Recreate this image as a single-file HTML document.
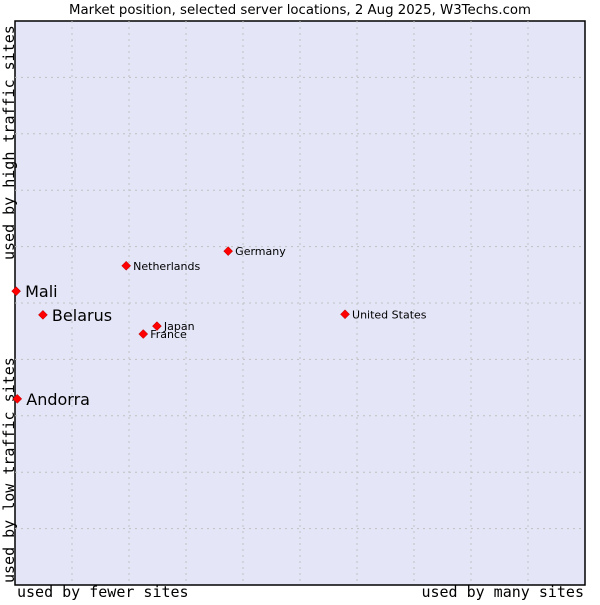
<!DOCTYPE html>
<html><head><meta charset="utf-8"><style>
body{margin:0;background:#fff;width:600px;height:600px;overflow:hidden}
svg text{font-family:"DejaVu Sans","Liberation Sans",sans-serif}
</style></head><body>
<svg width="600" height="600">
<text x="300" y="14" text-anchor="middle" font-size="13.3" fill="#000">Market position, selected server locations, 2 Aug 2025, W3Techs.com</text>
<rect x="15" y="21" width="570" height="564" fill="#e4e6f8" stroke="#000" stroke-width="1.5"/>
<g id="grid"></g>
<text transform="translate(14,583) rotate(-90)" font-size="15" style="font-family:'DejaVu Sans Mono',monospace">used by low traffic sites</text>
<text transform="translate(14,260) rotate(-90)" font-size="15" style="font-family:'DejaVu Sans Mono',monospace">used by high traffic sites</text>
<text x="17" y="597" font-size="15" style="font-family:'DejaVu Sans Mono',monospace">used by fewer sites</text>
<text x="584" y="597" text-anchor="end" font-size="15" style="font-family:'DejaVu Sans Mono',monospace">used by many sites</text>
<g id="points"></g>
</svg>
<script>
const names=["Mali","Belarus","Andorra","Netherlands","Germany","United States","Japan","France"];
const xVals=[0.02,0.49,0.04,1.95,3.74,5.79,2.49,2.25];
const yVals=[5.21,4.79,3.30,5.66,5.92,4.80,4.59,4.45];
const big=[true,true,true,false,false,false,false,false];
const L=15,T=21,W=570,H=564;
const sx=v=>L+v/10*W, sy=v=>T+H-v/10*H;
const ns="http://www.w3.org/2000/svg";
const g=document.getElementById('grid');
for(let i=1;i<10;i++){
 const a=document.createElementNS(ns,'line');
 
 
 a.setAttribute('x1',sx(i));a.setAttribute('x2',sx(i));a.setAttribute('y1',T);a.setAttribute('y2',T+H);
 a.setAttribute('stroke','#c0c0c0');a.setAttribute('stroke-dasharray','2,4');g.appendChild(a);
 const b=document.createElementNS(ns,'line');
 
 
 b.setAttribute('y1',sy(i));b.setAttribute('y2',sy(i));b.setAttribute('x1',L);b.setAttribute('x2',L+W);
 b.setAttribute('stroke','#c0c0c0');b.setAttribute('stroke-dasharray','2,4');g.appendChild(b);
}
const p=document.getElementById('points');
names.forEach((n,i)=>{
 const x=sx(xVals[i]),y=sy(yVals[i]);
 const d=document.createElementNS(ns,'path');
 
 
 d.setAttribute('d',`M${x},${y-4.5}L${x+4.5},${y}L${x},${y+4.5}L${x-4.5},${y}Z`);
 d.setAttribute('fill','#f00');d.setAttribute('stroke','#a00');d.setAttribute('stroke-width','0.5');p.appendChild(d);
 const t=document.createElementNS(ns,'text');
 
 
 t.setAttribute('x',x+(big[i]?9:7));t.setAttribute('y',y+(big[i]?6:4));
 t.setAttribute('font-size',big[i]?16:11);t.textContent=n;p.appendChild(t);
});
</script>
</body></html>
